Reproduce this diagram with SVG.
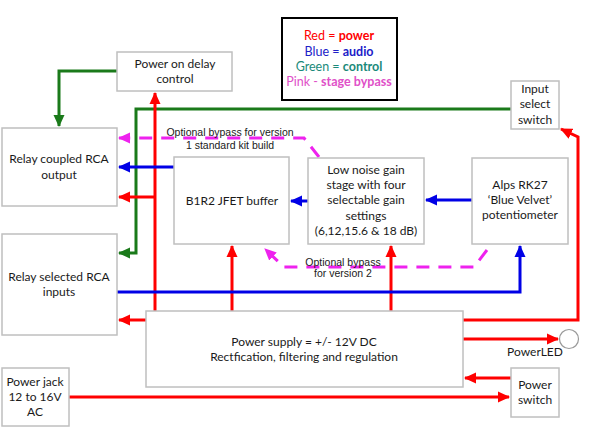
<svg xmlns="http://www.w3.org/2000/svg" width="592" height="444" viewBox="0 0 592 444">
<style>
.box{fill:#fff;stroke:#bfbfbf;stroke-width:1.5}
.t{font-family:Lato,"Liberation Sans",sans-serif;font-size:12px;fill:#1a1a1a;text-anchor:middle}
.s{font-family:"Liberation Sans",Arial,sans-serif;font-size:10.5px;fill:#1a1a1a;text-anchor:middle}
.lg{font-family:Lato,"Liberation Sans",sans-serif;font-size:12.5px;text-anchor:middle}
.r{fill:none;stroke:#ff0000;stroke-width:3}
.b{fill:none;stroke:#0000e6;stroke-width:3}
.g{fill:none;stroke:#1a7a1a;stroke-width:3}
.p{fill:none;stroke:#ee22ee;stroke-width:3;stroke-dasharray:13,9}
</style>
<defs>
<marker id="ar" markerUnits="userSpaceOnUse" markerWidth="12" markerHeight="12" refX="11" refY="5.5" orient="auto" viewBox="0 0 12 11"><path d="M0,0 L12,5.5 L0,11 z" fill="#ff0000"/></marker>
<marker id="ab" markerUnits="userSpaceOnUse" markerWidth="12" markerHeight="12" refX="11" refY="5.5" orient="auto" viewBox="0 0 12 11"><path d="M0,0 L12,5.5 L0,11 z" fill="#0000e6"/></marker>
<marker id="ag" markerUnits="userSpaceOnUse" markerWidth="12" markerHeight="12" refX="11" refY="5.5" orient="auto" viewBox="0 0 12 11"><path d="M0,0 L12,5.5 L0,11 z" fill="#1a7a1a"/></marker>
<marker id="ap" markerUnits="userSpaceOnUse" markerWidth="12" markerHeight="12" refX="11" refY="5.5" orient="auto" viewBox="0 0 12 11"><path d="M0,0 L12,5.5 L0,11 z" fill="#ee22ee"/></marker>
</defs>

<g id="legend">
<rect x="282" y="18" width="115" height="82" fill="#fff" stroke="#000" stroke-width="2"/>
<text class="lg" x="339" y="40" fill="#ff0000">Red = <tspan font-weight="bold">power</tspan></text>
<text class="lg" x="339" y="56" fill="#2020c8">Blue = <tspan font-weight="bold">audio</tspan></text>
<text class="lg" x="339" y="71" fill="#1a8a7a">Green = <tspan font-weight="bold">control</tspan></text>
<text class="lg" x="339" y="86" fill="#e050c8">Pink - <tspan font-weight="bold">stage bypass</tspan></text>
</g>

<g id="connectors">
<!-- green control -->
<path class="g" d="M117,71 H59 V126" marker-end="url(#ag)"/>
<path class="g" d="M511,109 H136 V253 H119" marker-end="url(#ag)"/>
<!-- red power -->
<path class="r" d="M155,311 V93" marker-end="url(#ar)"/>
<path class="r" d="M155,197 H119" marker-end="url(#ar)"/>
<path class="r" d="M232,311 V246" marker-end="url(#ar)"/>
<path class="r" d="M391,311 V246" marker-end="url(#ar)"/>
<path class="r" d="M146,320 H119" marker-end="url(#ar)"/>
<path class="r" d="M463,320 H578 V137 L561,129" marker-end="url(#ar)"/>
<path class="r" d="M463,339 H558" marker-end="url(#ar)"/>
<path class="r" d="M511,378 H465" marker-end="url(#ar)"/>
<path class="r" d="M69,397 H509" marker-end="url(#ar)"/>
<!-- blue audio -->
<path class="b" d="M174,167 H119" marker-end="url(#ab)"/>
<path class="b" d="M308,201 H291" marker-end="url(#ab)"/>
<path class="b" d="M472,200 H426" marker-end="url(#ab)"/>
<path class="b" d="M117,292 H520 V246" marker-end="url(#ab)"/>
<!-- pink bypass -->
<path class="p" d="M319,157 L304,138 H119" marker-end="url(#ap)"/>
<path class="p" d="M487,250 L474,267 H284 L265,249" marker-end="url(#ap)"/>
<text class="s" x="230" y="136">Optional bypass for version</text>
<text class="s" x="230" y="149">1 standard kit build</text>
<text class="s" x="343" y="266">Optional bypass</text>
<text class="s" x="343" y="277">for version 2</text>
</g>

<g id="power-on-delay">
<rect class="box" x="117" y="52" width="115" height="39"/>
<text class="t" x="175" y="68">Power on delay</text>
<text class="t" x="175" y="83">control</text>
</g>
<g id="relay-output">
<rect class="box" x="2" y="128" width="115" height="78"/>
<text class="t" x="59" y="163">Relay coupled RCA</text>
<text class="t" x="59" y="179">output</text>
</g>
<g id="relay-inputs">
<rect class="box" x="2" y="234" width="115" height="101"/>
<text class="t" x="59" y="281">Relay selected RCA</text>
<text class="t" x="59" y="296">inputs</text>
</g>
<g id="jfet-buffer">
<rect class="box" x="174" y="157" width="115" height="87"/>
<text class="t" x="232" y="205">B1R2 JFET buffer</text>
</g>
<g id="gain-stage">
<rect class="box" x="308" y="158" width="116" height="86"/>
<text class="t" x="366" y="174">Low noise gain</text>
<text class="t" x="366" y="189">stage with four</text>
<text class="t" x="366" y="204">selectable gain</text>
<text class="t" x="366" y="220">settings</text>
<text class="t" x="366" y="235">(6,12,15.6 &amp; 18 dB)</text>
</g>
<g id="alps-pot">
<rect class="box" x="472" y="158" width="96" height="86"/>
<text class="t" x="520" y="189">Alps RK27</text>
<text class="t" x="520" y="204">‘Blue Velvet’</text>
<text class="t" x="520" y="219">potentiometer</text>
</g>
<g id="input-select">
<rect class="box" x="511" y="81" width="48" height="48"/>
<text class="t" x="535" y="93">Input</text>
<text class="t" x="535" y="108">select</text>
<text class="t" x="535" y="124">switch</text>
</g>
<g id="power-supply">
<rect class="box" x="146" y="311" width="317" height="76"/>
<text class="t" x="304" y="346">Power supply = +/- 12V DC</text>
<text class="t" x="304" y="361">Rectfication, filtering and regulation</text>
</g>
<g id="power-led">
<circle cx="569" cy="339" r="9.5" fill="#fff" stroke="#999" stroke-width="1.2"/>
<text class="t" x="535" y="356">PowerLED</text>
</g>
<g id="power-switch">
<rect class="box" x="511" y="368" width="48" height="49"/>
<text class="t" x="535" y="389">Power</text>
<text class="t" x="535" y="404">switch</text>
</g>
<g id="power-jack">
<rect class="box" x="2" y="368" width="67" height="58"/>
<text class="t" x="35" y="386">Power jack</text>
<text class="t" x="35" y="401">12 to 16V</text>
<text class="t" x="35" y="416">AC</text>
</g>
</svg>
